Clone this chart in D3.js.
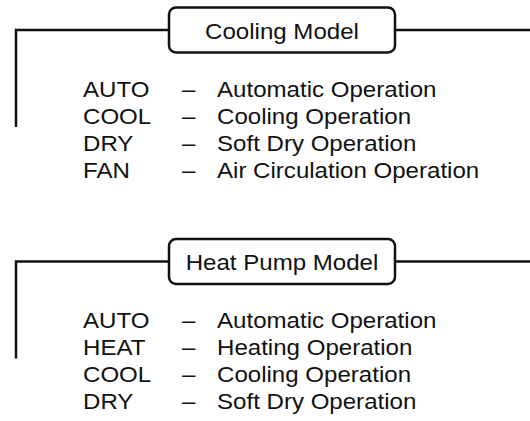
<!DOCTYPE html>
<html>
<head>
<meta charset="utf-8">
<script src="https://cdn.jsdelivr.net/npm/d3@7"></script>
<style>
  html, body { margin: 0; padding: 0; background: #fff; }
  svg { display: block; }
</style>
</head>
<body>
<div id="chart"></div>
<script>
// ---- data ----
const modelTitles = ["Cooling Model", "Heat Pump Model"];
const coolingCodes = ["AUTO", "COOL", "DRY", "FAN"];
const coolingDescriptions = ["Automatic Operation", "Cooling Operation", "Soft Dry Operation", "Air Circulation Operation"];
const heatPumpCodes = ["AUTO", "HEAT", "COOL", "DRY"];
const heatPumpDescriptions = ["Automatic Operation", "Heating Operation", "Cooling Operation", "Soft Dry Operation"];

const sections = [
  { title: modelTitles[0], codes: coolingCodes, descs: coolingDescriptions },
  { title: modelTitles[1], codes: heatPumpCodes, descs: heatPumpDescriptions }
];

const W = 530, H = 421;
const svg = d3.select("#chart").append("svg").attr("width", W).attr("height", H);

const font = "'Liberation Sans', Arial, Helvetica, sans-serif";
const fs = 22.5, sx = 1.07;

// section vertical placement
const sectionY = d3.scaleLinear().domain([0, 1]).range([30, 261.5]);
// row placement (baseline offset from section line)
const rowY = d3.scaleLinear().domain([0, 3]).range([66.5, 147.5]);

sections.forEach((s, i) => {
  const y0 = sectionY(i);
  const g = svg.append("g").attr("transform", `translate(0,${y0})`);
  const stroke = "#111", sw = 2.5;
  // bracket
  g.append("path")
    .attr("d", `M16,97 V0 H169`)
    .attr("fill", "none").attr("stroke", stroke).attr("stroke-width", sw);
  g.append("line").attr("x1", 395).attr("x2", 530).attr("y1", 0).attr("y2", 0)
    .attr("stroke", stroke).attr("stroke-width", sw);
  g.append("rect").attr("x", 169).attr("y", -22.5).attr("width", 226).attr("height", 45)
    .attr("rx", 7).attr("fill", "#fff").attr("stroke", stroke).attr("stroke-width", sw);
  g.append("text").attr("transform", `translate(282,8.5) scale(${sx},1)`)
    .attr("text-anchor", "middle").attr("font-family", font).attr("font-size", fs)
    .attr("fill", "#111").text(s.title);

  const rows = g.selectAll("g.row").data(s.codes.map((c, j) => ({ c, d: s.descs[j], j })))
    .join("g").attr("class", "row").attr("transform", d => `translate(0,${rowY(d.j)})`);
  rows.append("text").attr("transform", `translate(83,0) scale(${sx},1)`)
    .attr("font-family", font).attr("font-size", fs).attr("fill", "#111").text(d => d.c);
  rows.append("text").attr("transform", `translate(182,0) scale(${sx},1)`)
    .attr("font-family", font).attr("font-size", fs).attr("fill", "#111").text("–");
  rows.append("text").attr("transform", `translate(217,0) scale(${sx},1)`)
    .attr("font-family", font).attr("font-size", fs).attr("fill", "#111").text(d => d.d);
});
</script>
</body>
</html>
